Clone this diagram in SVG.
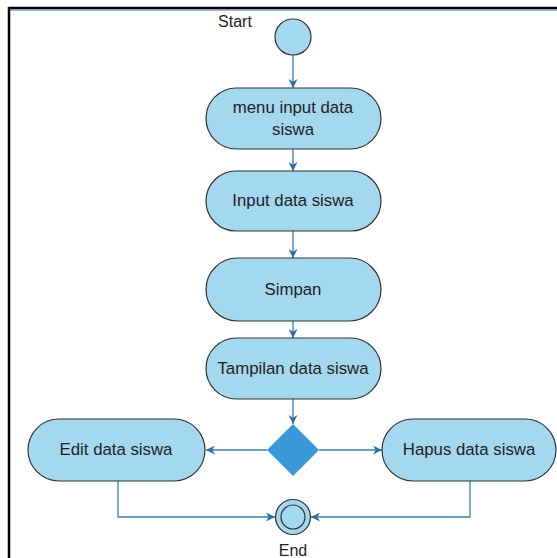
<svg xmlns="http://www.w3.org/2000/svg" width="557" height="558" viewBox="0 0 557 558">
<defs>
<marker id="ah" viewBox="0 0 10 10" refX="10" refY="5" markerWidth="9" markerHeight="9" markerUnits="userSpaceOnUse" orient="auto">
<path d="M0,0 L10,5 L0,10 L3,5 Z" fill="#2f6fa7"/>
</marker>
<style>
.node{fill:#a4d8ef;stroke:#333;stroke-width:1.2}
.lbl{font-family:"Liberation Sans",Arial,sans-serif;font-size:16.8px;fill:#222;text-anchor:middle}
.edge{fill:none;stroke:#3b7db5;stroke-width:1.3;marker-end:url(#ah)}
</style>
</defs>
<rect width="557" height="558" fill="#fff"/>
<g id="frame">
<line x1="9" y1="8" x2="557" y2="8" stroke="#000" stroke-width="2.5"/>
<line x1="10" y1="10" x2="557" y2="10" stroke="#4a78b0" stroke-width="1"/>
<line x1="9" y1="7" x2="9" y2="558" stroke="#000" stroke-width="2.5"/>
</g>
<g id="connectors">
<line class="edge" x1="293" y1="55" x2="293" y2="88"/>
<line class="edge" x1="293" y1="149" x2="293" y2="171"/>
<line class="edge" x1="293" y1="231" x2="293" y2="258"/>
<line class="edge" x1="293" y1="321" x2="293" y2="338"/>
<line class="edge" x1="293" y1="399" x2="293" y2="424"/>
<line class="edge" x1="267" y1="450" x2="206" y2="450"/>
<line class="edge" x1="319" y1="450" x2="382" y2="450"/>
<polyline class="edge" points="118,481 118,517 275,517"/>
<polyline class="edge" points="470,481 470,517 311,517"/>
</g>
<g id="start">
<circle cx="293" cy="37" r="18" class="node"/>
<text x="235" y="27" class="lbl" style="font-size:16px">Start</text>
</g>
<g id="menu">
<rect x="206" y="88" width="175" height="61" rx="30.5" class="node"/>
<text x="293" y="113" class="lbl">menu input data</text>
<text x="293" y="135" class="lbl">siswa</text>
</g>
<g id="input">
<rect x="206" y="171" width="175" height="60" rx="30" class="node"/>
<text x="293" y="206" class="lbl">Input data siswa</text>
</g>
<g id="simpan">
<rect x="206" y="258" width="175" height="63" rx="31.5" class="node"/>
<text x="293" y="295" class="lbl">Simpan</text>
</g>
<g id="tampilan">
<rect x="206" y="338" width="175" height="61" rx="30.5" class="node"/>
<text x="293" y="374" class="lbl">Tampilan data siswa</text>
</g>
<g id="decision">
<polygon points="293,424 319,450 293,476 267,450" fill="#3a98d8"/>
</g>
<g id="edit">
<rect x="28" y="419" width="177" height="62" rx="31" class="node"/>
<text x="116" y="455" class="lbl">Edit data siswa</text>
</g>
<g id="hapus">
<rect x="382" y="419" width="174" height="62" rx="31" class="node"/>
<text x="469" y="455" class="lbl">Hapus data siswa</text>
</g>
<g id="end">
<circle cx="293" cy="517" r="17.5" class="node"/>
<circle cx="293" cy="517" r="12" fill="#a4d8ef" stroke="#333" stroke-width="1.2"/>
<text x="293" y="556" class="lbl" style="font-size:16px">End</text>
</g>
</svg>
